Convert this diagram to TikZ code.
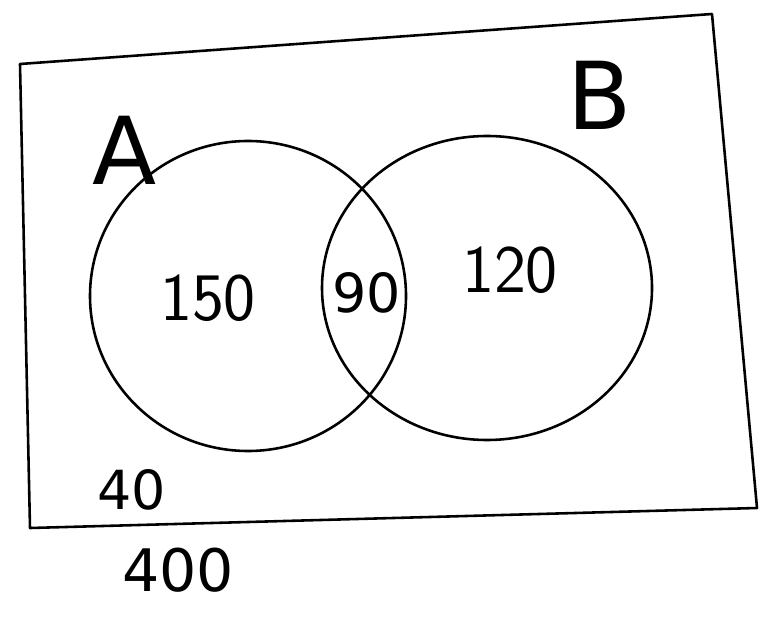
\documentclass[tikz,border=0pt]{standalone}
\usepackage{fontspec}
\setmainfont{DejaVu Sans}
\begin{document}
\begin{tikzpicture}[x=0.03cm,y=-0.03cm,
  hand/.style={line width=2.2pt, line cap=round, line join=round, black},
  lbl/.style={font=\fontsize{58}{58}\selectfont\sffamily, inner sep=0pt}]
\useasboundingbox (0,0) rectangle (762,629);
% universe rectangle
\draw[hand] (20,64) -- (712,14) -- (757,508) -- (30,528) -- cycle;
% set A
\draw[hand] (248,296) ellipse [x radius=158, y radius=155];
% set B
\draw[hand] (487,288) ellipse [x radius=165, y radius=152];
% labels
\node[lbl, font=\fontsize{80}{80}\selectfont] (A) at (125,150) {A};
\node[lbl, font=\fontsize{80}{80}\selectfont] (B) at (600,95) {B};
\node[lbl] (n150) at (208,298) {150};
\node[lbl, font=\fontsize{46}{46}\selectfont] (n90) at (367,293) {90};
\node[lbl] (n120) at (510,270) {120};
\node[lbl, font=\fontsize{46}{46}\selectfont] (n40) at (132,490) {40};
\node[lbl, font=\fontsize{50}{50}\selectfont] (n400) at (178,570) {400};
\end{tikzpicture}
\end{document}
